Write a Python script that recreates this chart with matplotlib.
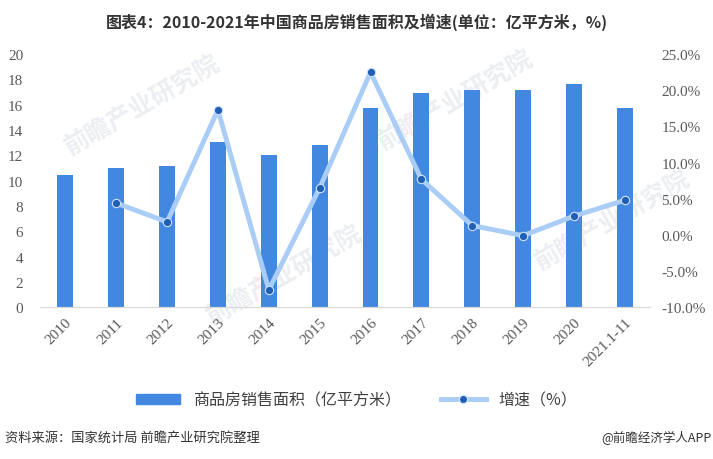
import matplotlib
matplotlib.use("Agg")
import matplotlib.pyplot as plt
from matplotlib.lines import Line2D
from matplotlib.patches import Patch

plt.rcParams['font.family'] = ['Noto Sans CJK SC', 'DejaVu Sans']

categories = ['2010', '2011', '2012', '2013', '2014', '2015', '2016', '2017',
              '2018', '2019', '2020', '2021.1-11']
area = [10.43, 10.99, 11.13, 13.06, 12.06, 12.85, 15.73, 16.94, 17.17, 17.16, 17.61, 15.73]
growth_x = ['2011', '2012', '2013', '2014', '2015', '2016', '2017', '2018', '2019', '2020', '2021.1-11']
growth = [4.4, 1.8, 17.3, -7.6, 6.5, 22.5, 7.7, 1.3, -0.1, 2.6, 4.8]
left_ticks = [0, 2, 4, 6, 8, 10, 12, 14, 16, 18, 20]
right_ticks = [-10, -5, 0, 5, 10, 15, 20, 25]

title = '图表4：2010-2021年中国商品房销售面积及增速(单位：亿平方米，%)'
bar_label = '商品房销售面积（亿平方米）'
line_label = '增速（%）'
source = '资料来源：国家统计局 前瞻产业研究院整理'
brand = '@前瞻经济学人APP'

BAR = '#4287e0'
LINE = '#a9cdf6'
MARK = '#1f5fb5'
TXT = '#595959'
serif = ['Liberation Serif', 'DejaVu Serif']

fig = plt.figure(figsize=(7.13, 4.6), dpi=100)
ax = fig.add_axes([0.056, 0.330, 0.856, 0.550])
ax2 = ax.twinx()
ax.patch.set_visible(False)
ax2.patch.set_visible(False)

xs = list(range(len(categories)))
ax.bar(xs, area, width=0.31, color=BAR, zorder=2)
gx = [categories.index(c) for c in growth_x]
ax2.plot(gx, growth, color=LINE, lw=3.5, marker='o', markersize=6,
         markerfacecolor=MARK, markeredgecolor='#cfe2fb', markeredgewidth=0.8,
         solid_joinstyle='round', zorder=3)

ax.set_xlim(-0.5, 11.5)
ax.set_ylim(0, 20)
ax2.set_ylim(-10, 25)
ax.set_yticks(left_ticks)
ax.set_yticklabels([str(t) for t in left_ticks], family=serif, fontsize=11, color=TXT)
ax2.set_yticks(right_ticks)
ax2.set_yticklabels([f'{t:.1f}%' for t in right_ticks], family=serif, fontsize=11, color=TXT)
ax.set_xticks(xs)
ax.set_xticklabels(categories, rotation=45, ha='right', rotation_mode='anchor',
                   family=serif, fontsize=11, color=TXT)

for a in (ax, ax2):
    for s in ('top', 'left', 'right'):
        a.spines[s].set_visible(False)
    a.spines['bottom'].set_color('#d9d9d9')
    a.tick_params(length=0)
ax.tick_params(axis='y', pad=12)
ax2.tick_params(axis='y', pad=8)
ax.tick_params(axis='x', pad=6)

# faint watermarks behind the plot
for (x, y) in [(0.20, 0.77), (0.64, 0.78), (0.40, 0.40), (0.86, 0.52)]:
    fig.text(x, y, '前瞻产业研究院', rotation=30, fontsize=18, color='#eceef2',
             fontweight='bold', ha='center', va='center', zorder=-5)

fig.text(0.5, 0.952, title, ha='center', va='center', fontsize=11.5,
         fontweight='bold', color='#333333')

handles = [Patch(facecolor=BAR, edgecolor=BAR),
           Line2D([0], [0], color=LINE, lw=3.5, marker='o', markersize=6,
                  markerfacecolor=MARK, markeredgecolor='#cfe2fb')]
fig.legend(handles, [bar_label, line_label], loc='center', bbox_to_anchor=(0.5, 0.128),
           ncol=2, frameon=False, fontsize=11.5, handlelength=2.8, handleheight=0.6,
           columnspacing=2.5, labelcolor='#404040')

fig.text(0.007, 0.048, source, ha='left', va='center', fontsize=9.5, color='#333333')
fig.text(0.998, 0.048, brand, ha='right', va='center', fontsize=9, color='#333333')

fig.savefig('out.png', dpi=100)
